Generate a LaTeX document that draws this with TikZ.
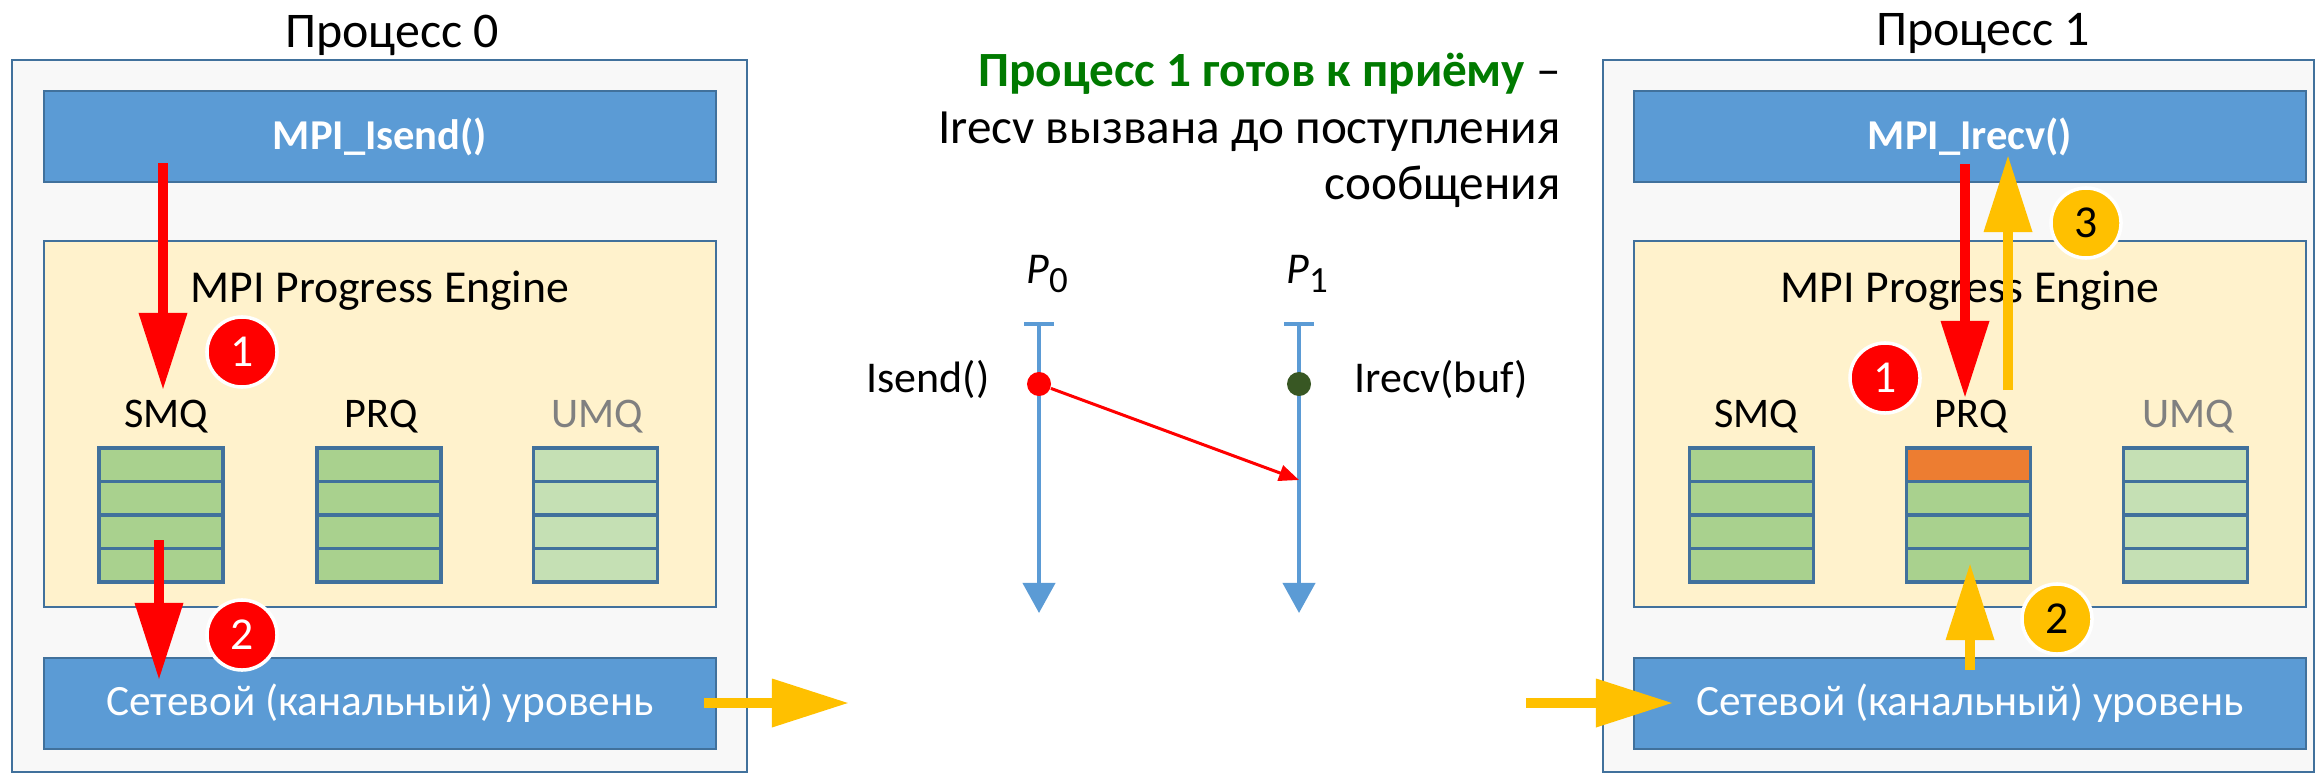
\documentclass[tikz,border=0pt]{standalone}
\usepackage{fontspec}
\setmainfont{Carlito}
\usetikzlibrary{arrows.meta, positioning}
\definecolor{boxline}{RGB}{65,113,156}
\definecolor{boxblue}{RGB}{91,155,213}
\definecolor{boxbg}{RGB}{248,248,248}
\definecolor{enginebg}{RGB}{255,242,204}
\definecolor{qgreen}{RGB}{169,209,142}
\definecolor{qlight}{RGB}{197,224,180}
\definecolor{qorange}{RGB}{237,125,49}
\definecolor{mpired}{RGB}{255,0,0}
\definecolor{mpiyellow}{RGB}{255,192,0}
\definecolor{okgreen}{RGB}{0,122,0}
\definecolor{dotgreen}{RGB}{56,87,35}
\begin{document}
\begin{tikzpicture}[x=0.01cm, y=-0.01cm,
    procbox/.style={rectangle, draw=boxline, fill=boxbg, line width=0.7pt,
                    minimum width=#1, minimum height=7.12cm, inner sep=0pt},
    callbox/.style={rectangle, draw=boxline, fill=boxblue, line width=0.7pt,
                    minimum width=6.72cm, minimum height=0.91cm, text=white,
                    font=\fontsize{12.3}{15}\selectfont},
    engine/.style={rectangle, draw=boxline, fill=enginebg, line width=0.7pt,
                   minimum width=6.72cm, minimum height=3.66cm},
    cell/.style={rectangle, draw=boxline, fill=qgreen, line width=0.9pt,
                 minimum width=1.24cm, minimum height=0.335cm, inner sep=0pt},
    qlabel/.style={anchor=base, font=\fontsize{12}{15}\selectfont},
    title/.style={anchor=base, font=\fontsize{14.2}{17}\selectfont},
    badge/.style={circle, fill=#1, draw=white, line width=1pt,
                  minimum size=0.7cm, inner sep=0pt,
                  font=\fontsize{13}{15}\selectfont},
    bigarrow/.style={-{Triangle[width=0.46cm, length=0.77cm]}, line width=0.1cm},
    timeline/.style={{Bar[width=0.3cm]}-{Triangle[width=0.32cm, length=0.3cm]},
                     line width=0.04cm, boxblue},
    dot/.style={circle, minimum size=0.24cm, inner sep=0pt},
    msg/.style={-{Triangle[width=0.16cm, length=0.2cm]}, line width=0.03cm, mpired},
    tlabel/.style={font=\fontsize{12.5}{15}\selectfont}
]
\useasboundingbox (0,0) rectangle (2318,776);

% process 0
\node[procbox=7.35cm] (proc0) at (379.5,416) {};
\node[title] (title0) at (392,48) {Процесс 0};
\node[callbox, font=\fontsize{12.1}{15}\selectfont\bfseries] (isend) at (380,136.5) {MPI\_Isend()};
\node[engine] (eng0) at (380,424) {};
\node[title, font=\fontsize{13}{16}\selectfont] (eng0txt) at (380,302) {MPI Progress Engine};
\node[callbox] (net0) at (380,703.5) {Сетевой (канальный) уровень};
\foreach \q/\qx/\qc in {SMQ/161/qgreen, PRQ/379/qgreen, UMQ/595.5/qlight}{
  \foreach \i in {0,...,3}
    \node[cell, fill=\qc] (L\q\i) at (\qx,{464.75+33.5*\i}) {};
}
\node[qlabel] (lsmq) at (166,427) {SMQ};
\node[qlabel] (lprq) at (381,427) {PRQ};
\node[qlabel, text=gray] (lumq) at (597,427) {UMQ};

% process 1
\node[procbox=7.11cm] (proc1) at (1958.5,416) {};
\node[title] (title1) at (1983,46) {Процесс 1};
\node[callbox, font=\fontsize{12.1}{15}\selectfont\bfseries] (irecv) at (1970,136.5) {MPI\_Irecv()};
\node[engine] (eng1) at (1970,424) {};
\node[title, font=\fontsize{13}{16}\selectfont] (eng1txt) at (1970,302) {MPI Progress Engine};
\node[callbox] (net1) at (1970,703.5) {Сетевой (канальный) уровень};
\foreach \q/\qx/\qc in {SMQ/1751.5/qgreen, PRQ/1968.5/qgreen, UMQ/2185.5/qlight}{
  \foreach \i in {0,...,3}
    \node[cell, fill=\qc] (R\q\i) at (\qx,{464.75+33.5*\i}) {};
}
\node[cell, fill=qorange] at (RPRQ0) {};
\node[qlabel] (rsmq) at (1756,427) {SMQ};
\node[qlabel] (rprq) at (1971,427) {PRQ};
\node[qlabel, text=gray] (rumq) at (2188,427) {UMQ};

% caption
\node[anchor=base east, font=\fontsize{14}{17}\selectfont] (cap1) at (1573,87)
    {\textbf{\color{okgreen}Процесс 1 готов к приёму} –};
\node[anchor=base east, font=\fontsize{14}{17}\selectfont] (cap2) at (1573,144)
    {Irecv вызвана до поступления};
\node[anchor=base east, font=\fontsize{14}{17}\selectfont] (cap3) at (1573,200)
    {сообщения};

% time diagram
\node[tlabel, anchor=base] (p0) at (1047,283) {\textit{P}\raisebox{-0.45ex}{\fontsize{10.5}{12}\selectfont 0}};
\node[tlabel, anchor=base] (p1) at (1307,283) {\textit{P}\raisebox{-0.45ex}{\fontsize{10.5}{12}\selectfont 1}};
\coordinate (p0top) at (1039,322);
\coordinate (p0bot) at (1039,613);
\coordinate (p1top) at (1299,322);
\coordinate (p1bot) at (1299,613);
\coordinate (recv) at (1299,480);
\draw[timeline] (p0top) -- (p0bot);
\draw[timeline] (p1top) -- (p1bot);
\node[dot, fill=mpired] (sdot) at (1039,384) {};
\node[dot, fill=dotgreen] (rdot) at (1299,384) {};
\draw[msg] (sdot) -- (recv);
\node[tlabel, anchor=base east] (lisend) at (1002,393) {Isend()};
\node[tlabel, anchor=base west] (lirecv) at (1342,393) {Irecv(buf)};

% arrows, process 0
\coordinate (a1s) at (163,163);
\coordinate (a1e) at (163,390);
\coordinate (a2s) at (159,540);
\coordinate (a2e) at (159,680);
\coordinate (outs) at (704,703);
\coordinate (oute) at (849,703);
\draw[bigarrow, mpired] (a1s) -- (a1e);
\draw[bigarrow, mpired] (a2s) -- (a2e);
\draw[bigarrow, mpiyellow] (outs) -- (oute);
\node[badge=mpired, text=white] (b01) at (242,352) {1};
\node[badge=mpired, text=white] (b02) at (242,635) {2};

% arrows, process 1
\coordinate (c1s) at (1965,164);
\coordinate (c1e) at (1965,398);
\coordinate (c2s) at (1970,670);
\coordinate (c2e) at (1970,563);
\coordinate (c3s) at (2008,390);
\coordinate (c3e) at (2008,155);
\coordinate (ins) at (1526,703);
\coordinate (ine) at (1673,703);
\draw[bigarrow, mpired] (c1s) -- (c1e);
\draw[bigarrow, mpiyellow] (c3s) -- (c3e);
\draw[bigarrow, mpiyellow] (c2s) -- (c2e);
\draw[bigarrow, mpiyellow] (ins) -- (ine);
\node[badge=mpired, text=white] (b11) at (1885,378) {1};
\node[badge=mpiyellow] (b12) at (2057,619) {2};
\node[badge=mpiyellow] (b13) at (2086,223) {3};
\end{tikzpicture}
\end{document}
